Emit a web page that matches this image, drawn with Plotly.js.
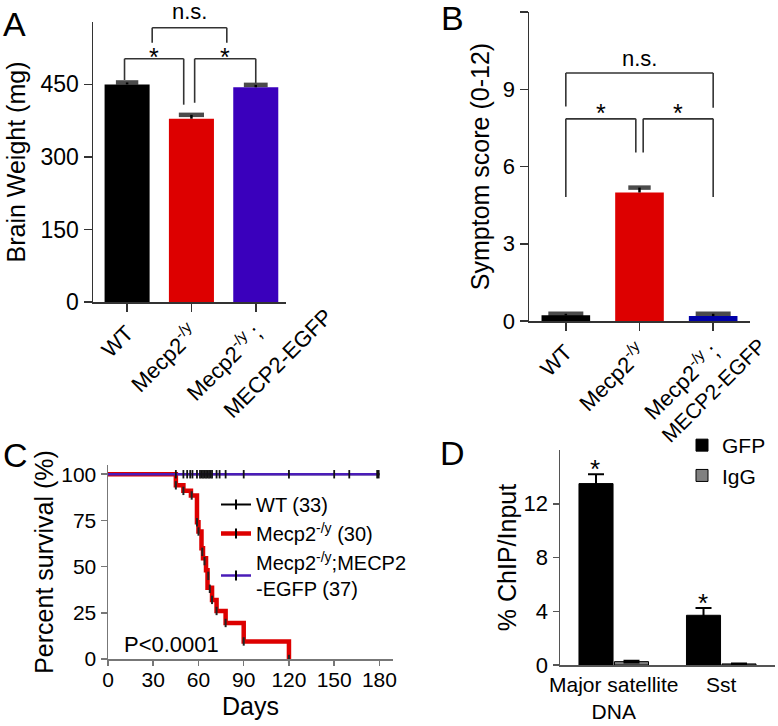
<!DOCTYPE html>
<html><head><meta charset="utf-8">
<script src="https://cdn.plot.ly/plotly-3.0.1.min.js"></script>
<style>html,body{margin:0;padding:0;background:#fff}#chart{width:778px;height:726px}</style>
</head><body><div id="chart"></div>
<script>
// ---------- DATA ----------
// Panel A / B categories
const genotypes = ['WT', 'Mecp2-/y', 'Mecp2-/y;MECP2-EGFP'];
const genotypeTickText = ['WT', 'Mecp2<sup>-/y</sup>', 'Mecp2<sup>-/y</sup> ;'];
const genotypeSecondLine = 'MECP2-EGFP';
// Panel A: brain weight (mg)
const brainWeight = [450, 379, 444];
const brainWeightErr = [4, 8, 5];
const brainTicks = [0, 150, 300, 450];
// Panel B: symptom score
const symptomScore = [0.22, 4.99, 0.19];
const symptomErr = [0.06, 0.19, 0.09];
const symptomTicks = [0, 3, 6, 9, 12];
// Panel C: survival
const wtDays = [0, 180];
const wtSurv = [100, 100];
const koDays = [0, 45, 50, 55, 59, 60, 62, 63, 65, 66, 69, 72, 78, 90, 120];
const koSurv = [100, 94, 91, 88.5, 74, 69, 60, 54.5, 48, 38.5, 32, 26, 19.5, 9.5, 0];
const rescueDays = [0, 180];
const rescueSurv = [100, 100];
const wtCensorDays = [45, 50, 52.5, 54.5, 56, 59, 61, 62, 63, 64, 65, 66, 67, 68, 69, 72, 74, 78, 90, 120, 150, 160, 178.5, 179.5];
const wtCensorSurv = [100, 100, 100, 100, 100, 100, 100, 100, 100, 100, 100, 100, 100, 100, 100, 100, 100, 100, 100, 100, 100, 100, 100, 100];
const koCensorDays = [45, 50, 55.5, 59, 60, 62.5, 64, 66.5, 67.5, 69, 72, 78, 90, 120];
const koCensorSurv = [94, 91, 88.5, 74, 69, 58, 53, 45, 38, 32, 26, 19.5, 9.5, 0];
const dayTicks = [0, 30, 60, 90, 120, 150, 180];
const survTicks = [0, 25, 50, 75, 100];
// Panel D: ChIP
const chipTargets = ['Major satellite<br>DNA', 'Sst'];
const gfpChip = [13.5, 3.7];
const gfpErr = [0.7, 0.55];
const iggChip = [0.25, 0.08];
const iggErr = [0.06, 0.03];
const chipTicks = [0, 4, 8, 12];

// significance brackets: [x0, x1, yTop, yLeftEnd, yRightEnd, label]
const bracketsA = [[-0.04, 0.88, 503, 459, 408, '*'], [1.05, 2.0, 503, 412, 453, '*'], [0.39, 1.55, 567, 536, 536, 'n.s.']];
const bracketsB = [[0, 2, 9.63, 8.33, 8.28, 'n.s.'], [0, 0.95, 7.85, 4.82, 6.54, '*'], [1.05, 2, 7.85, 6.54, 4.82, '*']];

// ---------- LAYOUT HELPERS ----------
const W = 778, H = 726;
const fx = p => p / W;
const fy = p => 1 - p / H;
const FONT = 'Liberation Sans, Arial, Helvetica, sans-serif';
function ax(extra, col) {
  col = col || '#333';
  return Object.assign({showline: true, linecolor: col, linewidth: 1.5, ticks: 'outside', ticklen: 8,
    tickwidth: 1.5, tickcolor: col, showgrid: false, zeroline: false, fixedrange: true,
    tickfont: {size: 21, family: FONT, color: '#000'}}, extra);
}

const colorsA = ['#000000', '#dd0000', '#3a00bc'];
const colorsB = ['#000000', '#dd0000', '#0000a8'];

const traces = [];
// Panel A bars
traces.push({type: 'bar', x: genotypes, y: brainWeight, xaxis: 'x', yaxis: 'y', width: 0.7,
  marker: {color: colorsA, line: {width: 0}}, showlegend: false, hoverinfo: 'skip',
  error_y: {type: 'data', symmetric: false, array: brainWeightErr, arrayminus: brainWeight.map(() => 0), width: 0, thickness: 2.5, color: '#000'}});
traces.push({type: 'scatter', mode: 'markers', x: genotypes, y: brainWeight.map((v, i) => v + brainWeightErr[i]), xaxis: 'x', yaxis: 'y',
  marker: {symbol: 'line-ew', size: [16, 18, 17], line: {width: 4.5, color: '#000'}}, showlegend: false, hoverinfo: 'skip'});
// Panel B bars
traces.push({type: 'bar', x: genotypes, y: symptomScore, xaxis: 'x2', yaxis: 'y2', width: 0.66,
  marker: {color: colorsB, line: {width: 0}}, showlegend: false, hoverinfo: 'skip',
  error_y: {type: 'data', symmetric: false, array: symptomErr, arrayminus: symptomScore.map(() => 0), width: 0, thickness: 2.5, color: '#000'}});
traces.push({type: 'scatter', mode: 'markers', x: genotypes, y: symptomScore.map((v, i) => v + symptomErr[i]), xaxis: 'x2', yaxis: 'y2',
  marker: {symbol: 'line-ew', size: [25, 16, 25], line: {width: 4.5, color: '#000'}}, showlegend: false, hoverinfo: 'skip'});
// Panel C curves
traces.push({type: 'scatter', mode: 'lines', x: wtDays, y: wtSurv, xaxis: 'x3', yaxis: 'y3', line: {color: '#000', width: 2, shape: 'hv'}, showlegend: false, hoverinfo: 'skip', cliponaxis: false});
traces.push({type: 'scatter', mode: 'lines', x: koDays, y: koSurv, xaxis: 'x3', yaxis: 'y3', line: {color: '#dd0000', width: 4.5, shape: 'hv'}, showlegend: false, hoverinfo: 'skip', cliponaxis: false});
traces.push({type: 'scatter', mode: 'lines', x: rescueDays, y: rescueSurv, xaxis: 'x3', yaxis: 'y3', line: {color: '#4a1cb8', width: 2.5, shape: 'hv'}, showlegend: false, hoverinfo: 'skip', cliponaxis: false});
traces.push({type: 'scatter', mode: 'markers', x: koCensorDays, y: koCensorSurv, xaxis: 'x3', yaxis: 'y3', marker: {symbol: 'line-ns', size: 6, line: {width: 2, color: '#222'}}, showlegend: false, hoverinfo: 'skip', cliponaxis: false});
traces.push({type: 'scatter', mode: 'markers', x: wtCensorDays, y: wtCensorSurv, xaxis: 'x3', yaxis: 'y3', marker: {symbol: 'line-ns', size: 6, line: {width: 1.8, color: '#111'}}, showlegend: false, hoverinfo: 'skip', cliponaxis: false});
// Panel C legend entries
traces.push({type: 'scatter', mode: 'lines+markers', x: [null], y: [null], xaxis: 'x3', yaxis: 'y3', name: 'WT (33)', legend: 'legend',
  line: {color: '#000', width: 2}, marker: {symbol: 'line-ns', size: 7, line: {width: 2, color: '#000'}}});
traces.push({type: 'scatter', mode: 'lines+markers', x: [null], y: [null], xaxis: 'x3', yaxis: 'y3', name: 'Mecp2<sup>-/y</sup> (30)', legend: 'legend',
  line: {color: '#dd0000', width: 4.5}, marker: {symbol: 'line-ns', size: 7, line: {width: 2, color: '#000'}}});
traces.push({type: 'scatter', mode: 'lines+markers', x: [null], y: [null], xaxis: 'x3', yaxis: 'y3', name: 'Mecp2<sup>-/y</sup>;MECP2<br>-EGFP (37)', legend: 'legend',
  line: {color: '#4a1cb8', width: 2.5}, marker: {symbol: 'line-ns', size: 7, line: {width: 2, color: '#000'}}});
// Panel D bars
traces.push({type: 'bar', x: chipTargets, y: gfpChip, name: 'GFP', xaxis: 'x4', yaxis: 'y4', legend: 'legend2',
  marker: {color: '#000', line: {color: '#000', width: 1}}, hoverinfo: 'skip',
  error_y: {type: 'data', array: gfpErr, width: 8, thickness: 2, color: '#000'}});
traces.push({type: 'bar', x: chipTargets, y: iggChip, name: 'IgG', xaxis: 'x4', yaxis: 'y4', legend: 'legend2',
  marker: {color: '#808080', line: {color: '#000', width: 1}}, hoverinfo: 'skip',
  error_y: {type: 'data', array: iggErr, width: 8, thickness: 2, color: '#000'}});

// shapes + annotations for brackets
const shapes = [];
const annotations = [];
function addBrackets(list, xr, yr, lblShiftStar, lblShiftNs) {
  list.forEach(b => {
    const [x0, x1, yt, yl, yrr, lab] = b;
    const ln = {type: 'line', xref: xr, yref: yr, line: {color: '#333', width: 1.6}};
    shapes.push(Object.assign({x0: x0, x1: x1, y0: yt, y1: yt}, ln));
    shapes.push(Object.assign({x0: x0, x1: x0, y0: yt, y1: yl}, ln));
    shapes.push(Object.assign({x0: x1, x1: x1, y0: yt, y1: yrr}, ln));
    const star = lab === '*';
    annotations.push({xref: xr, yref: yr, x: (x0 + x1) / 2, y: yt, text: lab, showarrow: false,
      yanchor: 'bottom', yshift: star ? lblShiftStar : lblShiftNs, font: {size: star ? 25 : 22, family: FONT, color: '#000'}});
  });
}
addBrackets(bracketsA, 'x', 'y', -14, 2);
addBrackets(bracketsB, 'x2', 'y2', -10, 0);

// second line of the third genotype label (offset as in the source figure)
annotations.push({xref: 'x', yref: 'paper', x: 2.35, y: fy(364), text: genotypeSecondLine, textangle: -45, showarrow: false,
  xanchor: 'center', yanchor: 'middle', font: {size: 22, family: FONT, color: '#000'}});
annotations.push({xref: 'x2', yref: 'paper', x: 2.0, y: fy(390), text: genotypeSecondLine, textangle: -45, showarrow: false,
  xanchor: 'center', yanchor: 'middle', font: {size: 21, family: FONT, color: '#000'}});

// panel letters
[['A', 14, 24], ['B', 452, 18], ['C', 15, 455], ['D', 452, 453]].forEach(l => {
  annotations.push({xref: 'paper', yref: 'paper', x: fx(l[1]), y: fy(l[2]), text: l[0], showarrow: false,
    xanchor: 'center', yanchor: 'middle', font: {size: 34, family: FONT, color: '#000'}});
});
// P value
annotations.push({xref: 'x3', yref: 'y3', x: 42, y: 8, text: 'P<0.0001', showarrow: false, font: {size: 22, family: FONT, color: '#000'}});
// D stars
gfpChip.forEach((v, i) => {
  annotations.push({xref: 'x4', yref: 'y4', x: i - 0.17, y: v + gfpErr[i], text: '*', showarrow: false, yanchor: 'bottom', yshift: -12,
    font: {size: 26, family: FONT, color: '#000'}});
});

const catFont = {size: 22, family: FONT, color: '#000'};
const layout = {
  width: W, height: H, margin: {l: 0, r: 0, t: 0, b: 0},
  paper_bgcolor: '#fff', plot_bgcolor: 'rgba(0,0,0,0)',
  font: {family: FONT, color: '#000', size: 20},
  barmode: 'group', bargap: 0.34, bargroupgap: 0.04,
  xaxis: ax({domain: [fx(93), fx(286)], anchor: 'y', type: 'category', range: [-0.53, 2.47], tickangle: -45,
    tickvals: genotypes, ticktext: genotypeTickText, tickfont: catFont}),
  yaxis: ax({domain: [fy(302), fy(22)], anchor: 'x', range: [0, 579], tickvals: brainTicks, tickfont: {size: 23, family: FONT, color: '#000'},
    title: {text: 'Brain Weight (mg)', font: {size: 25, family: FONT}, standoff: 8}}),
  xaxis2: ax({domain: [fx(529), fx(750)], anchor: 'y2', type: 'category', range: [-0.5, 2.5], tickangle: -45,
    tickvals: genotypes, ticktext: genotypeTickText, tickfont: catFont}),
  yaxis2: ax({domain: [fy(321), fy(12)], anchor: 'x2', range: [0, 12], tickvals: symptomTicks, tickfont: {size: 22, family: FONT, color: '#000'},
    title: {text: 'Symptom score (0-12)', font: {size: 25, family: FONT}, standoff: 6}}),
  xaxis3: ax({domain: [fx(108), fx(393)], anchor: 'y3', range: [0, 189], tickvals: dayTicks, ticklen: 5, ticklabelstandoff: -4,
    title: {text: 'Days', font: {size: 25, family: FONT}, standoff: 8}}, '#777'),
  yaxis3: ax({domain: [fy(659), fy(465)], anchor: 'x3', range: [0, 105], tickvals: survTicks, ticklen: 6,
    title: {text: 'Percent survival (%)', font: {size: 25, family: FONT}, standoff: 0}}, '#777'),
  xaxis4: ax({domain: [fx(560), fx(775)], anchor: 'y4', type: 'category', range: [-0.5, 1.5], ticks: '', tickfont: {size: 21, family: FONT, color: '#000'}}, '#555'),
  yaxis4: ax({domain: [fy(665), fy(450)], anchor: 'x4', range: [0, 16], tickvals: chipTicks, ticklen: 6, tickfont: {size: 22, family: FONT, color: '#000'},
    title: {text: '% ChIP/Input', font: {size: 25, family: FONT}, standoff: 0}}, '#555'),
  legend: {x: fx(216), y: fy(485), xanchor: 'left', yanchor: 'top', bgcolor: 'rgba(0,0,0,0)', font: {size: 20, family: FONT, color: '#000'}, tracegroupgap: 0, itemwidth: 30},
  legend2: {x: fx(682), y: fy(425), xanchor: 'left', yanchor: 'top', bgcolor: 'rgba(0,0,0,0)', font: {size: 21, family: FONT, color: '#000'}},
  shapes: shapes,
  annotations: annotations
};

Plotly.newPlot('chart', traces, layout, {displayModeBar: false, staticPlot: true});
</script>
</body></html>
